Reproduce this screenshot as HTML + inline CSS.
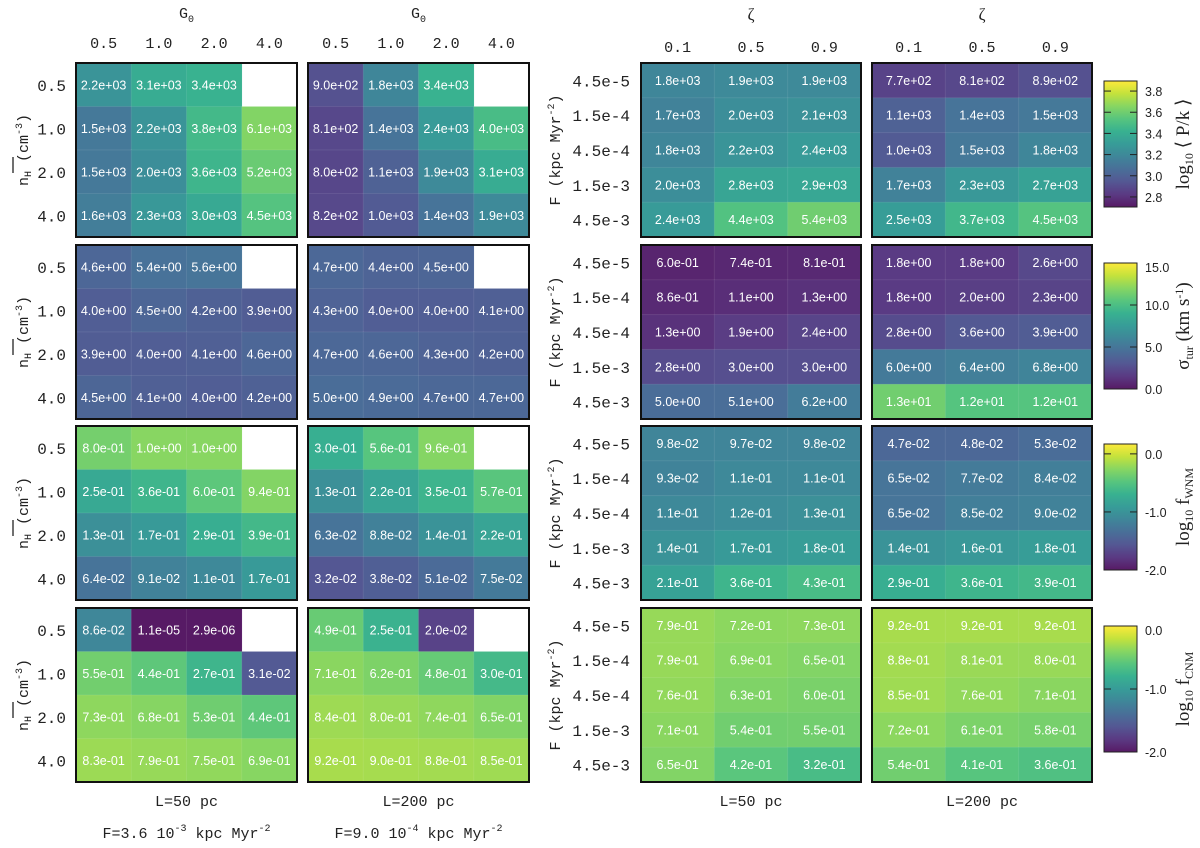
<!DOCTYPE html>
<html><head><meta charset="utf-8">
<style>
html,body{margin:0;padding:0;background:#fff;}
svg{display:block;}
.mono{font-family:"Liberation Mono",monospace;}
.sans{font-family:"Liberation Sans",sans-serif;}
.serif{font-family:"Liberation Serif",serif;}
</style></head>
<body>
<svg id="fig" width="1200" height="848" viewBox="0 0 1200 848" xmlns="http://www.w3.org/2000/svg"></svg>
<script>
// ---- data ----
const leftCols = ["0.5","1.0","2.0","4.0"];
const leftRows = ["0.5","1.0","2.0","4.0"];
const rightCols = ["0.1","0.5","0.9"];
const rightRows = ["4.5e-5","1.5e-4","4.5e-4","1.5e-3","4.5e-3"];

const pL50 = [[2.2e3,3.1e3,3.4e3,null],[1.5e3,2.2e3,3.8e3,6.1e3],[1.5e3,2.0e3,3.6e3,5.2e3],[1.6e3,2.3e3,3.0e3,4.5e3]];
const pL200 = [[9.0e2,1.8e3,3.4e3,null],[8.1e2,1.4e3,2.4e3,4.0e3],[8.0e2,1.1e3,1.9e3,3.1e3],[8.2e2,1.0e3,1.4e3,1.9e3]];
const sL50 = [[4.6,5.4,5.6,null],[4.0,4.5,4.2,3.9],[3.9,4.0,4.1,4.6],[4.5,4.1,4.0,4.2]];
const sL200 = [[4.7,4.4,4.5,null],[4.3,4.0,4.0,4.1],[4.7,4.6,4.3,4.2],[5.0,4.9,4.7,4.7]];
const wL50 = [[8.0e-1,1.0,1.0,null],[2.5e-1,3.6e-1,6.0e-1,9.4e-1],[1.3e-1,1.7e-1,2.9e-1,3.9e-1],[6.4e-2,9.1e-2,1.1e-1,1.7e-1]];
const wL200 = [[3.0e-1,5.6e-1,9.6e-1,null],[1.3e-1,2.2e-1,3.5e-1,5.7e-1],[6.3e-2,8.8e-2,1.4e-1,2.2e-1],[3.2e-2,3.8e-2,5.1e-2,7.5e-2]];
const cL50 = [[8.6e-2,1.1e-5,2.9e-6,null],[5.5e-1,4.4e-1,2.7e-1,3.1e-2],[7.3e-1,6.8e-1,5.3e-1,4.4e-1],[8.3e-1,7.9e-1,7.5e-1,6.9e-1]];
const cL200 = [[4.9e-1,2.5e-1,2.0e-2,null],[7.1e-1,6.2e-1,4.8e-1,3.0e-1],[8.4e-1,8.0e-1,7.4e-1,6.5e-1],[9.2e-1,9.0e-1,8.8e-1,8.5e-1]];

const pR50 = [[1.8e3,1.9e3,1.9e3],[1.7e3,2.0e3,2.1e3],[1.8e3,2.2e3,2.4e3],[2.0e3,2.8e3,2.9e3],[2.4e3,4.4e3,5.4e3]];
const pR200 = [[7.7e2,8.1e2,8.9e2],[1.1e3,1.4e3,1.5e3],[1.0e3,1.5e3,1.8e3],[1.7e3,2.3e3,2.7e3],[2.5e3,3.7e3,4.5e3]];
const sR50 = [[0.60,0.74,0.81],[0.86,1.1,1.3],[1.3,1.9,2.4],[2.8,3.0,3.0],[5.0,5.1,6.2]];
const sR200 = [[1.8,1.8,2.6],[1.8,2.0,2.3],[2.8,3.6,3.9],[6.0,6.4,6.8],[13,12,12]];
const wR50 = [[9.8e-2,9.7e-2,9.8e-2],[9.3e-2,1.1e-1,1.1e-1],[1.1e-1,1.2e-1,1.3e-1],[1.4e-1,1.7e-1,1.8e-1],[2.1e-1,3.6e-1,4.3e-1]];
const wR200 = [[4.7e-2,4.8e-2,5.3e-2],[6.5e-2,7.7e-2,8.4e-2],[6.5e-2,8.5e-2,9.0e-2],[1.4e-1,1.6e-1,1.8e-1],[2.9e-1,3.6e-1,3.9e-1]];
const cR50 = [[7.9e-1,7.2e-1,7.3e-1],[7.9e-1,6.9e-1,6.5e-1],[7.6e-1,6.3e-1,6.0e-1],[7.1e-1,5.4e-1,5.5e-1],[6.5e-1,4.2e-1,3.2e-1]];
const cR200 = [[9.2e-1,9.2e-1,9.2e-1],[8.8e-1,8.1e-1,8.0e-1],[8.5e-1,7.6e-1,7.1e-1],[7.2e-1,6.1e-1,5.8e-1],[5.4e-1,4.1e-1,3.6e-1]];

const pTicks = ["2.8","3.0","3.2","3.4","3.6","3.8"];
const sTicks = ["0.0","5.0","10.0","15.0"];
const wTicks = ["-2.0","-1.0","0.0"];
const cTicks = ["-2.0","-1.0","0.0"];

// ---- helpers ----
const NS = "http://www.w3.org/2000/svg";
const svg = document.getElementById("fig");
const VIR = [[68,1,84],[72,36,117],[65,68,135],[53,95,141],[42,120,142],[33,145,140],[34,168,132],[68,190,112],[122,209,81],[189,223,38],[253,231,37]];
function viridis(t){
  t = Math.max(0, Math.min(1, t));
  const f = t*(VIR.length-1), i = Math.min(Math.floor(f), VIR.length-2), u = f-i;
  const c = VIR[i].map((v,k)=>v+(VIR[i+1][k]-v)*u);
  const a = 0.9;
  return "rgb(" + c.map(v=>Math.round(v*a+255*(1-a))).join(",") + ")";
}
function el(tag, attrs, parent){
  const e = document.createElementNS(NS, tag);
  for (const k in attrs) e.setAttribute(k, attrs[k]);
  (parent||svg).appendChild(e);
  return e;
}
function fmt(v){
  let s = v.toExponential(1);
  let [m, e] = s.split("e");
  let sign = e[0]; let d = e.slice(1);
  if (d.length < 2) d = "0" + d;
  return m + "e" + sign + d;
}
const scales = {
  p:{min:2.705,max:3.895,log:true},
  s:{min:0,max:15,log:false},
  w:{min:-2,max:0.17,log:true},
  c:{min:-2,max:0,log:true}
};
function colorFor(v, sc){
  const x = sc.log ? Math.log10(v) : v;
  return viridis(0.87*(x-sc.min)/(sc.max-sc.min));
}

const rowTops = [63, 245, 426, 608];
const PH = 174;

function panel(data, x0, y0, w, h, sc, name, fs){
  const g = el("g", {});
  
  
  const nr = data.length, nc = data[0].length;
  const cw = w/nc, ch = h/nr;
  for (let r=0;r<nr;r++) for (let c=0;c<nc;c++){
    const v = data[r][c];
    const cx = x0 + c*cw, cy = y0 + r*ch;
    if (v === null) continue;
    const rc = el("rect", {x:cx, y:cy, width:cw+0.3, height:ch+0.3, fill:colorFor(v, sc), stroke:"rgba(255,255,255,0.07)", "stroke-width":1}, g);
    
    
    const t = el("text", {x:cx+cw/2, y:cy+ch/2+4.5, "text-anchor":"middle", fill:"#fff", "font-size":fs, class:"sans"}, g);
    t.textContent = fmt(v);
    
    
  }
  const b = el("rect", {x:x0, y:y0, width:w, height:h, fill:"none", stroke:"#111", "stroke-width":2}, g);
  
  
}
function text(x, y, s, cls, size, anchor, name, extra){
  const t = el("text", Object.assign({x:x, y:y, "font-size":size, "text-anchor":anchor||"middle", class:cls, fill:"#222"}, extra||{}));
  t.innerHTML = s;
  
  
  return t;
}

const leftX = [76, 308], LW = 221;
const rightX = [641, 872], RW = 220;
const leftData = [[pL50,pL200],[sL50,sL200],[wL50,wL200],[cL50,cL200]];
const rightData = [[pR50,pR200],[sR50,sR200],[wR50,wR200],[cR50,cR200]];
const keys = ["p","s","w","c"];
const names = ["pressure","sigma-turb","f-wnm","f-cnm"];

for (let i=0;i<4;i++){
  const y0 = rowTops[i];
  panel(leftData[i][0], leftX[0], y0, LW, PH, scales[keys[i]], names[i]+"-panel-l50", 12.5);
  panel(leftData[i][1], leftX[1], y0, LW, PH, scales[keys[i]], names[i]+"-panel-l200", 12.5);
  panel(rightData[i][0], rightX[0], y0, RW, PH, scales[keys[i]], names[i]+"-panel-zeta-l50", 12.5);
  panel(rightData[i][1], rightX[1], y0, RW, PH, scales[keys[i]], names[i]+"-panel-zeta-l200", 12.5);
  leftRows.forEach((s,r)=>text(66, y0 + (r+0.5)*PH/4 + 6, s, "mono", 16, "end", "nh-tick-label"));
  rightRows.forEach((s,r)=>text(630, y0 + (r+0.5)*PH/5 + 6, s, "mono", 16, "end", "f-tick-label"));
  text(0,0,'n<tspan font-size="10" dy="3">H</tspan><tspan dy="-3">  (cm</tspan><tspan font-size="10" dy="-6">-3</tspan><tspan dy="6">)</tspan>', "mono", 15, "middle", "nh-axis-title", {transform:"translate(28,"+(y0+PH/2)+") rotate(-90)"});
  el("line",{x1:13,y1:y0+PH/2+7,x2:13,y2:y0+PH/2+23,stroke:"#222","stroke-width":1.3});
  text(0,0,'F  (kpc Myr<tspan font-size="10" dy="-6">-2</tspan><tspan dy="6">)</tspan>', "mono", 15, "middle", "f-axis-title", {transform:"translate(560,"+(y0+PH/2)+") rotate(-90)"});
}

[leftX[0],leftX[1]].forEach(x0=>{
  leftCols.forEach((s,c)=>text(x0+(c+0.5)*LW/4, 48, s, "mono", 15, "middle", "g0-tick-label"));
  text(x0+LW/2, 18, 'G<tspan font-size="10" dy="4">0</tspan>', "mono", 15, "middle", "g0-axis-title");
});
[rightX[0],rightX[1]].forEach(x0=>{
  rightCols.forEach((s,c)=>text(x0+(c+0.5)*RW/3, 52, s, "mono", 15, "middle", "zeta-tick-label"));
  text(x0+RW/2, 20, 'ζ', "serif", 17, "middle", "zeta-axis-title");
});

const cbX = 1104, cbW = 33, cbH = 126;
const cbTicks = [pTicks, sTicks, wTicks, cTicks];
const cbTitles = [
  'log<tspan font-size="12" dy="4">10</tspan><tspan dy="-4"> ⟨ P/k ⟩</tspan>',
  'σ<tspan font-size="12" dy="4">tur</tspan><tspan dy="-4"> (km s</tspan><tspan font-size="12" dy="-6">-1</tspan><tspan dy="6">)</tspan>',
  'log<tspan font-size="12" dy="4">10</tspan><tspan dy="-4"> f</tspan><tspan font-size="12" dy="4">WNM</tspan>',
  'log<tspan font-size="12" dy="4">10</tspan><tspan dy="-4"> f</tspan><tspan font-size="12" dy="4">CNM</tspan>'
];
const defs = el("defs", {});
for (let i=0;i<4;i++){
  const sc = scales[keys[i]];
  const top = rowTops[i] + 18;
  const gid = "cbg"+i;
  const lg = el("linearGradient", {id:gid, x1:0, y1:1, x2:0, y2:0}, defs);
  for (let k=0;k<=20;k++){
    const t = k/20;
    el("stop", {offset:t, "stop-color":viridis(t)}, lg);
  }
  const r = el("rect", {x:cbX, y:top, width:cbW, height:cbH, fill:"url(#"+gid+")", stroke:"#222", "stroke-width":1});
  
  
  const y = v => top + cbH - (v - sc.min)/(sc.max - sc.min)*cbH;
  cbTicks[i].forEach(s=>{
    const v = parseFloat(s);
    const yy = y(v);
    if (yy > top+2 && yy < top+cbH-2){
      el("line",{x1:cbX,y1:yy,x2:cbX+7,y2:yy,stroke:"#222","stroke-width":1});
      el("line",{x1:cbX+cbW-7,y1:yy,x2:cbX+cbW,y2:yy,stroke:"#222","stroke-width":1});
    }
    text(cbX+cbW+8, Math.min(Math.max(yy, top+4), top+cbH)+5, s, "sans", 12.5, "start", "colorbar-tick-label");
  });
  text(0,0, cbTitles[i], "serif", 19, "middle", names[i]+"-colorbar-title", {transform:"translate(1189,"+(top+cbH/2)+") rotate(-90)"});
}

text(leftX[0]+LW/2, 806, "L=50 pc", "mono", 15, "middle", "l50-label");
text(leftX[1]+LW/2, 806, "L=200 pc", "mono", 15, "middle", "l200-label");
text(rightX[0]+RW/2, 806, "L=50 pc", "mono", 15, "middle", "l50-zeta-label");
text(rightX[1]+RW/2, 806, "L=200 pc", "mono", 15, "middle", "l200-zeta-label");
text(leftX[0]+LW/2, 838, 'F=3.6 10<tspan font-size="10" dy="-7">-3</tspan><tspan dy="7"> kpc Myr</tspan><tspan font-size="10" dy="-7">-2</tspan>', "mono", 15, "middle", "f-value-l50");
text(leftX[1]+LW/2, 838, 'F=9.0 10<tspan font-size="10" dy="-7">-4</tspan><tspan dy="7"> kpc Myr</tspan><tspan font-size="10" dy="-7">-2</tspan>', "mono", 15, "middle", "f-value-l200");
</script>
</body></html>
